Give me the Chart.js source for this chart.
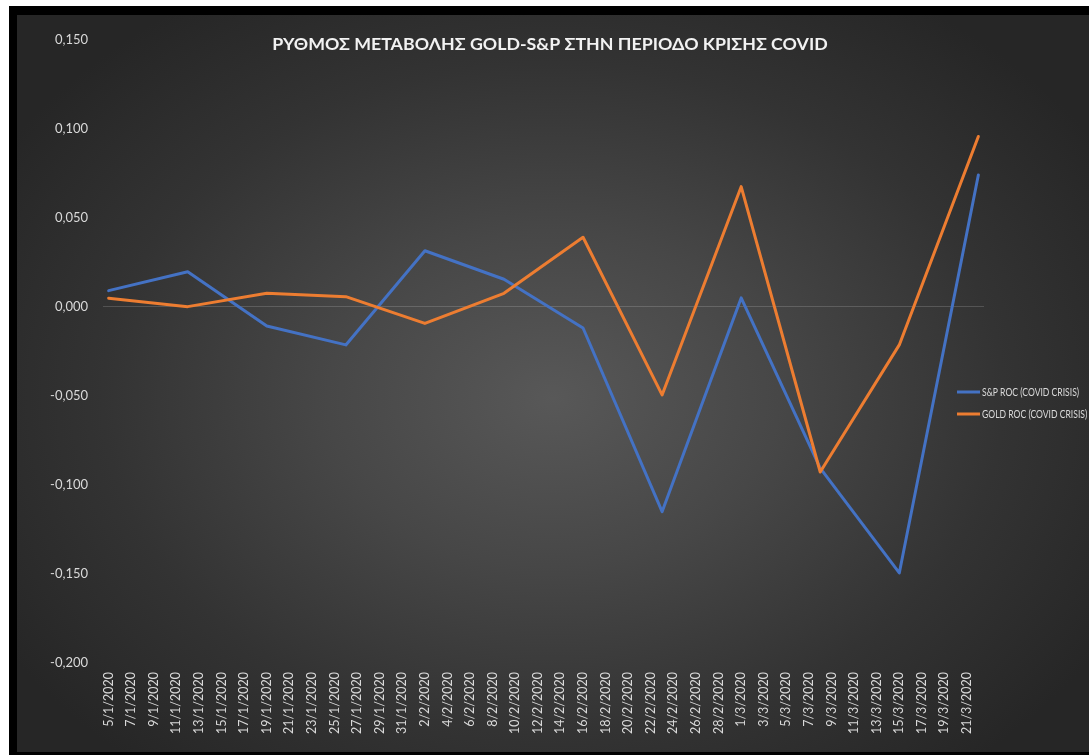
<!DOCTYPE html>
<html>
<head>
<meta charset="utf-8">
<script src="https://cdn.jsdelivr.net/npm/chart.js@4/dist/chart.umd.min.js"></script>
<style>
  html, body { margin: 0; padding: 0; background: #fff; }
  #frame { position: absolute; left: 9px; top: 6px; width: 1080px; height: 749px; background: #000; }
  #panel {
    position: absolute; left: 17px; top: 15px; width: 1072px; height: 737px;
    background: radial-gradient(ellipse 60% 65% at 50% 52%, #585858 0%, #474747 35%, #333 70%, #262626 100%);
  }
  canvas { display: block; }
</style>
</head>
<body>
<div id="frame"></div>
<div id="panel"><canvas id="chart" width="1072" height="737"></canvas></div>
<script>
const chartTitle = 'ΡΥΘΜΟΣ ΜΕΤΑΒΟΛΗΣ GOLD-S&P ΣΤΗΝ ΠΕΡΙΟΔΟ ΚΡΙΣΗΣ COVID';
const seriesNames = ['S&P ROC (COVID CRISIS)', 'GOLD ROC (COVID CRISIS)'];

// weekly observations
const dates = ['5/1/2020', '12/1/2020', '19/1/2020', '26/1/2020', '2/2/2020', '9/2/2020',
  '16/2/2020', '23/2/2020', '1/3/2020', '8/3/2020', '15/3/2020', '22/3/2020'];
const spRoc = [0.0092, 0.0198, -0.0107, -0.0213, 0.0316, 0.0156, -0.0118, -0.1150, 0.0051, -0.0905, -0.1494, 0.0742];
const goldRoc = [0.0049, 0.0002, 0.0077, 0.0058, -0.0092, 0.0077, 0.0392, -0.0494, 0.0676, -0.0927, -0.0213, 0.0958];

const xTickLabels = ['5/1/2020', '7/1/2020', '9/1/2020', '11/1/2020', '13/1/2020', '15/1/2020', '17/1/2020',
  '19/1/2020', '21/1/2020', '23/1/2020', '25/1/2020', '27/1/2020', '29/1/2020', '31/1/2020', '2/2/2020',
  '4/2/2020', '6/2/2020', '8/2/2020', '10/2/2020', '12/2/2020', '14/2/2020', '16/2/2020', '18/2/2020',
  '20/2/2020', '22/2/2020', '24/2/2020', '26/2/2020', '28/2/2020', '1/3/2020', '3/3/2020', '5/3/2020',
  '7/3/2020', '9/3/2020', '11/3/2020', '13/3/2020', '15/3/2020', '17/3/2020', '19/3/2020', '21/3/2020'];
const yTicks = [-0.2, -0.15, -0.1, -0.05, 0, 0.05, 0.1, 0.15];

const colors = ['#4472C4', '#ED7D31'];
const textColor = '#d9d9d9';
const fontFamily = 'Lato, "Open Sans", sans-serif';

// day number counted from the first date
function dayOf(s) {
  const [d, m, y] = s.split('/').map(Number);
  const [d0, m0, y0] = dates[0].split('/').map(Number);
  return Math.round((Date.UTC(y, m - 1, d) - Date.UTC(y0, m0 - 1, d0)) / 86400000);
}

const fmt = v => (Math.abs(v) < 1e-9 ? 0 : v).toFixed(3).replace('.', ',');

const overlay = {
  id: 'overlay',
  afterDraw(chart) {
    const ctx = chart.ctx;
    ctx.save();
    ctx.fillStyle = '#f2f2f2';
    ctx.font = 'bold 17.8px ' + fontFamily;
    ctx.textAlign = 'center';
    ctx.textBaseline = 'middle';
    ctx.fillText(chartTitle, 533, 29);

    // legend, squeezed like the narrow office font
    ctx.font = '11px ' + fontFamily;
    ctx.textAlign = 'left';
    chart.data.datasets.forEach((ds, i) => {
      const y = 377 + i * 22;
      ctx.strokeStyle = ds.borderColor;
      ctx.lineWidth = 3;
      ctx.beginPath();
      ctx.moveTo(940, y);
      ctx.lineTo(963, y);
      ctx.stroke();
      ctx.fillStyle = textColor;
      ctx.fillText(ds.label, 965, y, ctx.measureText(ds.label).width * 0.78);
    });
    ctx.restore();
  }
};

new Chart(document.getElementById('chart'), {
  type: 'line',
  data: {
    datasets: [
      {
        label: seriesNames[0],
        data: dates.map((d, i) => ({ x: dayOf(d), y: spRoc[i] })),
        borderColor: colors[0],
        borderWidth: 3,
        pointRadius: 0,
        order: 2
      },
      {
        label: seriesNames[1],
        data: dates.map((d, i) => ({ x: dayOf(d), y: goldRoc[i] })),
        borderColor: colors[1],
        borderWidth: 3,
        pointRadius: 0,
        order: 1
      }
    ]
  },
  options: {
    responsive: false,
    animation: false,
    layout: { padding: { top: 25, right: 105, left: 0, bottom: 0 } },
    plugins: { legend: { display: false }, title: { display: false }, tooltip: { enabled: false } },
    elements: { line: { borderJoinStyle: 'round', borderCapStyle: 'round', tension: 0 } },
    scales: {
      x: {
        type: 'linear',
        min: -0.5,
        max: 77.5,
        grid: { display: false },
        border: { display: false },
        afterBuildTicks: s => { s.ticks = xTickLabels.map(l => ({ value: dayOf(l) })); },
        afterFit: s => { s.height = 89; },
        ticks: {
          autoSkip: false,
          minRotation: 90,
          maxRotation: 90,
          padding: 1,
          color: textColor,
          font: { family: fontFamily, size: 12.5 },
          callback: (v, i) => xTickLabels[i]
        }
      },
      y: {
        min: yTicks[0],
        max: yTicks[yTicks.length - 1],
        grid: {
          drawTicks: false,
          lineWidth: 1,
          color: c => (Math.abs(c.tick.value) < 1e-9 ? 'rgba(255,255,255,0.16)' : 'transparent')
        },
        border: { display: false },
        afterBuildTicks: s => { s.ticks = yTicks.map(v => ({ value: v })); },
        afterFit: s => { s.width = 86; },
        ticks: {
          padding: 15,
          color: textColor,
          font: { family: fontFamily, size: 13 },
          callback: v => fmt(v)
        }
      }
    }
  },
  plugins: [overlay]
});
</script>
</body>
</html>
